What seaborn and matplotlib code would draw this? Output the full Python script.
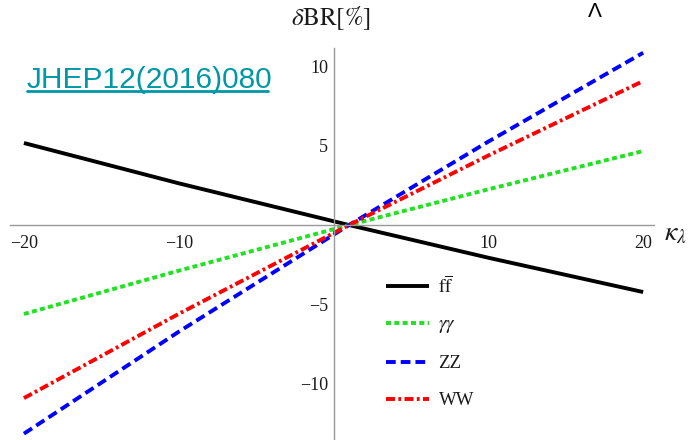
import numpy as np
import pandas as pd
import matplotlib
matplotlib.use("Agg")
import matplotlib.pyplot as plt
import seaborn as sns

# kappa_lambda sample points and the relative branching-ratio shifts (in %)
kappa = [-20, -10, 1, 10, 20]
dbr_ff = [5.19, 2.64, 0.0, -2.07, -4.24]
dbr_gg = [-5.63, -2.89, 0.0, 2.26, 4.68]
dbr_zz = [-13.2, -6.75, 0.0, 5.28, 10.9]
dbr_ww = [-10.95, -5.62, 0.0, 4.40, 9.11]

channels = [r"$\mathrm{f}\overline{\mathrm{f}}$", r"$\gamma\gamma$", "ZZ", "WW"]
series = [dbr_ff, dbr_gg, dbr_zz, dbr_ww]

x_ticks = [-20, -10, 10, 20]
y_ticks = [-10, -5, 5, 10]

df = pd.concat(
    [pd.DataFrame({"kappa": kappa, "dBR": vals, "channel": name})
     for name, vals in zip(channels, series)],
    ignore_index=True,
)

sns.set_style("white")
plt.rcParams["lines.scale_dashes"] = False
plt.rcParams["mathtext.fontset"] = "stix"
serif = ["Liberation Serif", "DejaVu Serif"]

W, H = 697, 440
fig = plt.figure(figsize=(W / 100, H / 100), dpi=100)
ax = fig.add_axes([10 / W, 0, 644 / W, 392 / H])

palette = {channels[0]: "black", channels[1]: "#22e022",
           channels[2]: "#0000ff", channels[3]: "#ff0000"}
dashes = {channels[0]: "", channels[1]: (3.6, 2.4),
          channels[2]: (7.0, 3.6), channels[3]: (6.5, 2.4, 2.0, 2.4)}

sns.lineplot(data=df, x="kappa", y="dBR", hue="channel", style="channel",
             palette=palette, dashes=dashes, hue_order=channels,
             style_order=channels, linewidth=2.8, ax=ax)
for ln in ax.get_lines():
    ln.set_dash_capstyle("butt")
    ln.set_solid_capstyle("butt")

ax.set_xlim(-20.9, 20.7)
ax.set_ylim(-13.6, 11.2)

# axes crossing at the origin
for side in ("top", "right"):
    ax.spines[side].set_visible(False)
ax.spines["left"].set_position(("data", 0))
ax.spines["bottom"].set_position(("data", 0))
for side in ("left", "bottom"):
    ax.spines[side].set_color("#999999")
    ax.spines[side].set_linewidth(1.0)

ax.set_xticks(x_ticks)
ax.set_yticks(y_ticks)
ax.set_xticks(np.arange(-20, 21, 2), minor=True)
ax.set_yticks(np.arange(-13, 12, 1), minor=True)
ax.tick_params(axis="both", which="major", direction="in", length=6,
               width=1.0, color="#999999", labelsize=13, labelcolor="#1a1a1a")
ax.tick_params(axis="both", which="minor", direction="in", length=4,
               width=0.8, color="#999999")
ax.tick_params(axis="x", which="major", pad=7)
ax.tick_params(axis="y", which="major", pad=4)
for lab in ax.get_xticklabels() + ax.get_yticklabels():
    lab.set_family(serif)
ax.set_xlabel("")
ax.set_ylabel("")

# axis titles
fig.text(331 / W, 1 - 18 / H, r"$\delta\mathrm{BR}[\%]$", ha="center",
         va="center", fontsize=18, color="#1a1a1a")
fig.text(664 / W, 1 - 232 / H, r"$\kappa_\lambda$", ha="left", va="center",
         fontsize=20, color="#1a1a1a")

# reference tag
fig.text(27 / W, 1 - 88 / H, "JHEP12(2016)080", ha="left", va="baseline",
         fontsize=21.5, color="#0097a7", family="Liberation Sans")
fig.add_artist(plt.Line2D([27 / W, 268 / W], [1 - 91 / H, 1 - 91 / H],
                          color="#0097a7", linewidth=2.0))
fig.text(595 / W, 1 - 17 / H, "Λ", ha="center", va="baseline",
         fontsize=15, color="black", family="Liberation Sans")

handles, labels = ax.get_legend_handles_labels()
leg = ax.legend(handles, labels, loc="upper left",
                bbox_to_anchor=(386 / W, 1 - 275 / H),
                bbox_transform=fig.transFigure, frameon=False,
                borderpad=0, borderaxespad=0, handlelength=2.3,
                handletextpad=0.5, labelspacing=1.05,
                prop={"family": serif, "size": 13.5})
for t in leg.get_texts():
    t.set_color("#1a1a1a")

fig.savefig("out.png", dpi=100)
